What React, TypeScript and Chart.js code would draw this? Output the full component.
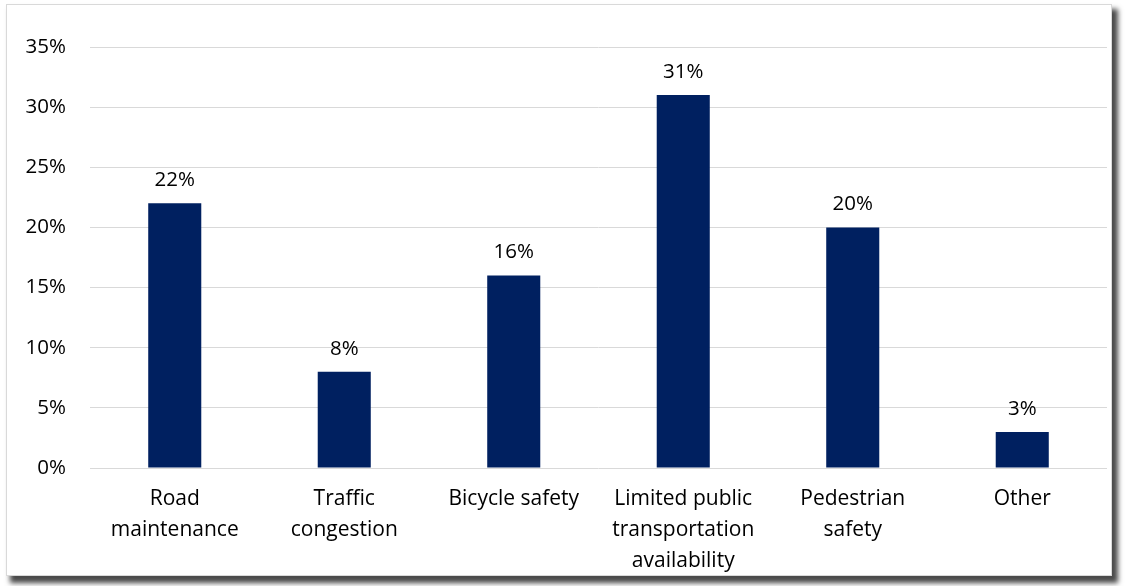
import React, { useEffect, useRef } from "react";
import { Chart, registerables } from "chart.js";

Chart.register(...registerables);

const categories: (string | string[])[] = [
  ["Road", "maintenance"],
  ["Traffic", "congestion"],
  "Bicycle safety",
  ["Limited public", "transportation", "availability"],
  ["Pedestrian", "safety"],
  "Other",
];
const values: number[] = [22, 8, 16, 31, 20, 3];
const yMax = 35;
const yStep = 5;

const FONT = "'Open Sans', sans-serif";

const valueLabels = {
  id: "valueLabels",
  afterDatasetsDraw(chart: any) {
    const ctx = chart.ctx;
    const meta = chart.getDatasetMeta(0);
    ctx.save();
    ctx.font = `20.5px ${FONT}`;
    ctx.fillStyle = "#000";
    ctx.textAlign = "center";
    ctx.textBaseline = "middle";
    meta.data.forEach((bar: any, i: number) => {
      ctx.fillText(values[i] + "%", bar.x, bar.y - 23);
    });
    ctx.restore();
  },
};

export default function App() {
  const ref = useRef<HTMLCanvasElement>(null);
  useEffect(() => {
    if (!ref.current) return;
    const chart = new Chart(ref.current, {
      type: "bar",
      data: {
        labels: categories,
        datasets: [
          {
            data: values,
            backgroundColor: "#002060",
            barPercentage: 0.313,
            categoryPercentage: 1,
          },
        ],
      },
      options: {
        responsive: false,
        animation: false,
        maintainAspectRatio: false,
        layout: { padding: { left: 0, right: 4, top: 42, bottom: 0 } },
        plugins: { legend: { display: false }, tooltip: { enabled: false } },
        scales: {
          x: {
            grid: { display: false, drawTicks: false },
            border: { display: false },
            ticks: {
              color: "#000",
              font: { family: FONT, size: 21, lineHeight: 1.46 },
              padding: 16,
              maxRotation: 0,
              autoSkip: false,
            },
            afterFit: (s: any) => {
              s.height = 107;
            },
          },
          y: {
            min: 0,
            max: yMax,
            grid: { color: "#d9d9d9", lineWidth: 1, drawTicks: false },
            border: { display: false },
            ticks: {
              stepSize: yStep,
              color: "#000",
              font: { family: FONT, size: 20.5 },
              padding: 24,
              callback: (v: any) => v + "%",
            },
            afterFit: (s: any) => {
              s.width = 83;
            },
          },
        },
      },
      plugins: [valueLabels],
    });
    return () => chart.destroy();
  }, []);

  return (
    <div
      style={{
        position: "fixed",
        left: 0,
        top: 0,
        width: 1125,
        height: 586,
        background: "#fff",
        overflow: "hidden",
      }}
    >
      <div
        style={{
          position: "absolute",
          left: 6,
          top: 4,
          width: 1104,
          height: 570,
          border: "1px solid #d9d9d9",
          background: "#fff",
          boxShadow: "5px 6px 5px 1px #4a4a4a",
        }}
      >
        <canvas ref={ref} width={1104} height={570} style={{ display: "block" }} />
      </div>
    </div>
  );
}
